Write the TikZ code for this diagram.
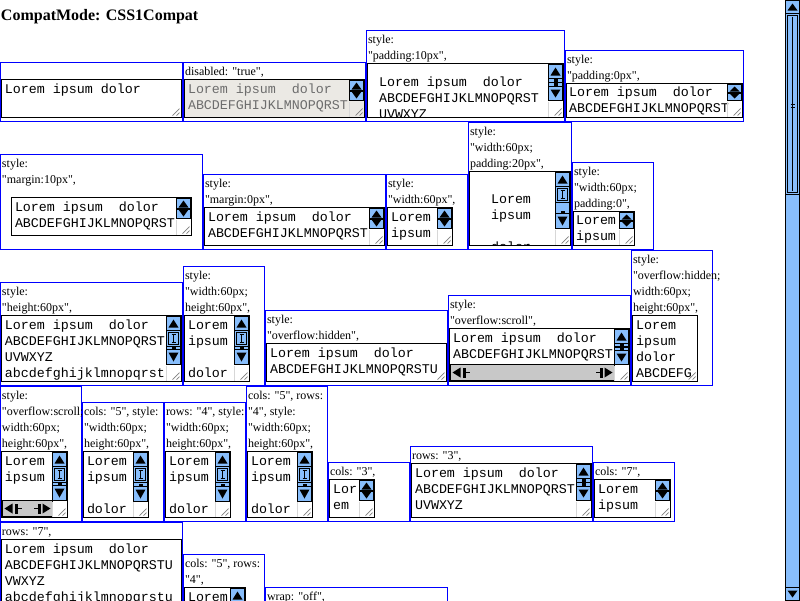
\documentclass[tikz,border=0pt]{standalone}
\usepackage{fontspec}
\setmainfont{Liberation Serif}[Ligatures=TeXOff]
\setmonofont{Liberation Mono}
\usepackage{xcolor}

\definecolor{sbblue}{RGB}{136,190,252}
\definecolor{sbgray}{RGB}{200,200,200}
\definecolor{offfill}{RGB}{235,233,228}
\definecolor{offtext}{RGB}{109,109,109}
\definecolor{gripline}{RGB}{128,128,128}
\definecolor{gripedge}{RGB}{215,215,215}

\newcommand\lblfont{\fontsize{12}{16}\selectfont}
\newcommand\txtfont{\fontsize{13.33}{16}\selectfont\ttfamily}

% textarea widgets, #1 = right edge of the textarea
\newcommand\taUp[3]{%
  \filldraw[sb] (#1-15,#2) rectangle (#1-1,#3);
  \fill (#1-8,#2+3) -- (#1-13,#3-3) -- (#1-3,#3-3) -- cycle;}
\newcommand\taDown[3]{%
  \filldraw[sb] (#1-15,#2) rectangle (#1-1,#3);
  \fill (#1-8,#3-3) -- (#1-13,#2+3) -- (#1-3,#2+3) -- cycle;}
\newcommand\taSpin[3]{%
  \pgfmathsetmacro\spinmid{(#2+#3)/2}
  \filldraw[sb] (#1-15,#2) rectangle (#1-1,#3);
  \fill (#1-8,#2+2) -- (#1-13,\spinmid-1) -- (#1-3,\spinmid-1) -- cycle;
  \fill (#1-8,#3-2) -- (#1-13,\spinmid+1) -- (#1-3,\spinmid+1) -- cycle;
  \draw[line width=2pt] (#1-15,\spinmid) -- (#1-1,\spinmid);}
\newcommand\taArrows[3]{%
  \pgfmathsetmacro\arrmid{(#2+#3)/2}
  \taUp{#1}{#2}{#2+14}
  \filldraw[sb] (#1-15,#2+14) rectangle (#1-1,#3-14);
  \draw[line width=1.5pt] (#1-15,\arrmid) -- (#1-1,\arrmid);
  \fill (#1-10,#2+14) rectangle (#1-6,#3-14);
  \taDown{#1}{#3-14}{#3}}
\newcommand\taFull[3]{%
  \taUp{#1}{#2}{#2+14}
  \filldraw[sb] (#1-15,#2+14) rectangle (#1-1,#2+30);
  \draw[line width=0.6pt] (#1-13,#2+16) rectangle (#1-3,#2+28);
  \draw[line width=0.6pt] (#1-8,#2+18) -- (#1-8,#2+26) (#1-10,#2+18) -- (#1-6,#2+18) (#1-10,#2+26) -- (#1-6,#2+26);
  \filldraw[sb] (#1-15,#2+30) rectangle (#1-1,#3-15);
  \fill (#1-10,#3-18) rectangle (#1-6,#3-15);
  \taDown{#1}{#3-15}{#3}}
\newcommand\taHoriz[3]{%
  \filldraw[hsb] (#1,#3) rectangle (#2,#3+16);
  \fill (#1+2,#3+8) -- (#1+10,#3+3) -- (#1+10,#3+13) -- cycle;
  \fill (#1+12,#3+3) rectangle (#1+15,#3+13);
  \draw (#1+15,#3+8) -- (#1+19,#3+8);
  \fill (#2-2,#3+8) -- (#2-10,#3+3) -- (#2-10,#3+13) -- cycle;
  \fill (#2-12,#3+3) rectangle (#2-15,#3+13);
  \draw (#2-15,#3+8) -- (#2-19,#3+8);}
\newcommand\taGrip[2]{%
  \draw[gripline, line width=0.7pt] (#1-2,#2-9) -- (#1-9,#2-2) (#1-2,#2-5) -- (#1-5,#2-2);}
\newcommand\taGripBox[2]{%
  \draw[gripedge] (#1-15,#2-16) -- (#1-15,#2-1);
  \taGrip{#1}{#2}}

\begin{document}
\begin{tikzpicture}[x=1pt,y=-1pt,line width=1pt,
  frame/.style={draw=blue},
  area/.style={draw=black, fill=white},
  off/.style={draw=black, fill=offfill},
  sb/.style={draw=black, fill=sbblue},
  hsb/.style={draw=black, fill=sbgray},
  lbl/.style={anchor=base west, inner sep=0pt, font=\lblfont},
  txt/.style={anchor=base west, inner sep=0pt, font=\txtfont}]
\useasboundingbox (-0.5,-0.5) rectangle (799.5,599.5);
\clip (-0.5,-0.5) rectangle (799.5,599.5);

\node[anchor=base west, inner sep=0pt, font=\fontsize{16}{19}\selectfont\bfseries] (title) at (0,20) {CompatMode: CSS1Compat};

% first row
\draw[frame] (0,62) rectangle (182,121);
\draw[area] (1,79) rectangle (181,117);
\node[txt] (txtA1) at (4,93) {Lorem ipsum dolor};
\taGrip{181}{117}

\draw[frame] (183,62) rectangle (365,121);
\node[lbl] (lblB1) at (184,75) {disabled: "true",};
\draw[off] (184,79) rectangle (364,117);
\node[txt, text=offtext] (txtB1) at (187,93) {Lorem ipsum\ \ dolor};
\node[txt, text=offtext] (txtB2) at (187,109) {ABCDEFGHIJKLMNOPQRST};
\taSpin{364}{80}{100}
\taGripBox{364}{117}

\draw[frame] (366,30) rectangle (564,121);
\node[lbl] (lblC1) at (367,43) {style:};
\node[lbl] (lblC2) at (367,59) {"padding:10px",};
\draw[area] (367,63) rectangle (563,117);
\begin{scope}
\clip (368,64) rectangle (562,116);
\node[txt] (txtC1) at (378,86) {Lorem ipsum\ \ dolor};
\node[txt] (txtC2) at (378,102) {ABCDEFGHIJKLMNOPQRST};
\node[txt] (txtC3) at (378,118) {UVWXYZ};
\end{scope}
\taArrows{563}{64}{100}
\taGripBox{563}{117}

\draw[frame] (565,50) rectangle (743,121);
\node[lbl] (lblD1) at (566,63) {style:};
\node[lbl] (lblD2) at (566,79) {"padding:0px",};
\draw[area] (566,83) rectangle (742,117);
\node[txt] (txtD1) at (568,96) {Lorem ipsum\ \ dolor};
\node[txt] (txtD2) at (568,112) {ABCDEFGHIJKLMNOPQRST};
\taSpin{742}{84}{100}
\taGripBox{742}{117}

% second row
\draw[frame] (0,154) rectangle (202,249);
\node[lbl] (lblE1) at (1,167) {style:};
\node[lbl] (lblE2) at (1,183) {"margin:10px",};
\draw[area] (11,197) rectangle (191,235);
\node[txt] (txtE1) at (14,211) {Lorem ipsum\ \ dolor};
\node[txt] (txtE2) at (14,227) {ABCDEFGHIJKLMNOPQRST};
\taSpin{191}{198}{218}
\taGripBox{191}{235}

\draw[frame] (203,174) rectangle (385,249);
\node[lbl] (lblF1) at (204,187) {style:};
\node[lbl] (lblF2) at (204,203) {"margin:0px",};
\draw[area] (204,207) rectangle (384,245);
\node[txt] (txtF1) at (207,221) {Lorem ipsum\ \ dolor};
\node[txt] (txtF2) at (207,237) {ABCDEFGHIJKLMNOPQRST};
\taSpin{384}{208}{228}
\taGripBox{384}{245}

\draw[frame] (386,174) rectangle (467,249);
\node[lbl] (lblG1) at (387,187) {style:};
\node[lbl] (lblG2) at (387,203) {"width:60px",};
\draw[area] (387,207) rectangle (452,245);
\node[txt] (txtG1) at (390,221) {Lorem};
\node[txt] (txtG2) at (390,237) {ipsum};
\taSpin{452}{208}{228}
\taGripBox{452}{245}

\draw[frame] (468,122) rectangle (571,249);
\node[lbl] (lblH1) at (469,135) {style:};
\node[lbl] (lblH2) at (469,151) {"width:60px;};
\node[lbl] (lblH3) at (469,167) {padding:20px",};
\draw[area] (469,171) rectangle (570,245);
\begin{scope}
\clip (470,172) rectangle (569,244);
\node[txt] (txtH1) at (490,203) {Lorem};
\node[txt] (txtH2) at (490,219) {ipsum};
\node[txt] (txtH3) at (490,251) {dolor};
\end{scope}
\taFull{570}{172}{228}
\taGripBox{570}{245}

\draw[frame] (572,162) rectangle (653,249);
\node[lbl] (lblI1) at (573,175) {style:};
\node[lbl] (lblI2) at (573,191) {"width:60px;};
\node[lbl] (lblI3) at (573,207) {padding:0",};
\draw[area] (573,211) rectangle (634,245);
\node[txt] (txtI1) at (575,224) {Lorem};
\node[txt] (txtI2) at (575,240) {ipsum};
\taSpin{634}{212}{228}
\taGripBox{634}{245}

% third row
\draw[frame] (0,282) rectangle (182,385);
\node[lbl] (lblJ1) at (1,295) {style:};
\node[lbl] (lblJ2) at (1,311) {"height:60px",};
\draw[area] (1,315) rectangle (181,381);
\node[txt] (txtJ1) at (4,329) {Lorem ipsum\ \ dolor};
\node[txt] (txtJ2) at (4,345) {ABCDEFGHIJKLMNOPQRST};
\node[txt] (txtJ3) at (4,361) {UVWXYZ};
\node[txt] (txtJ4) at (4,377) {abcdefghijklmnopqrst};
\taFull{181}{316}{364}
\taGripBox{181}{381}

\draw[frame] (183,266) rectangle (264,385);
\node[lbl] (lblK1) at (184,279) {style:};
\node[lbl] (lblK2) at (184,295) {"width:60px;};
\node[lbl] (lblK3) at (184,311) {height:60px",};
\draw[area] (184,315) rectangle (249,381);
\node[txt] (txtK1) at (187,329) {Lorem};
\node[txt] (txtK2) at (187,345) {ipsum};
\node[txt] (txtK3) at (187,377) {dolor};
\taFull{249}{316}{364}
\taGripBox{249}{381}

\draw[frame] (265,310) rectangle (447,385);
\node[lbl] (lblL1) at (266,323) {style:};
\node[lbl] (lblL2) at (266,339) {"overflow:hidden",};
\draw[area] (266,343) rectangle (446,381);
\node[txt] (txtL1) at (269,357) {Lorem ipsum\ \ dolor};
\node[txt] (txtL2) at (269,373) {ABCDEFGHIJKLMNOPQRSTU};
\taGrip{446}{381}

\draw[frame] (448,295) rectangle (630,385);
\node[lbl] (lblM1) at (449,308) {style:};
\node[lbl] (lblM2) at (449,324) {"overflow:scroll",};
\draw[area] (449,328) rectangle (629,381);
\node[txt] (txtM1) at (452,342) {Lorem ipsum\ \ dolor};
\node[txt] (txtM2) at (452,358) {ABCDEFGHIJKLMNOPQRST};
\taArrows{629}{329}{364}
\taHoriz{450}{614}{364}
\taGripBox{629}{381}

\draw[frame] (631,250) rectangle (712,385);
\node[lbl] (lblN1) at (632,263) {style:};
\node[lbl] (lblN2) at (632,279) {"overflow:hidden;};
\node[lbl] (lblN3) at (632,295) {width:60px;};
\node[lbl] (lblN4) at (632,311) {height:60px",};
\draw[area] (632,315) rectangle (697,381);
\node[txt] (txtN1) at (635,329) {Lorem};
\node[txt] (txtN2) at (635,345) {ipsum};
\node[txt] (txtN3) at (635,361) {dolor};
\node[txt] (txtN4) at (635,377) {ABCDEFG};
\taGrip{697}{381}

% fourth row
\draw[frame] (0,386) rectangle (81,521);
\node[lbl] (lblO1) at (1,399) {style:};
\node[lbl] (lblO2) at (1,415) {"overflow:scroll;};
\node[lbl] (lblO3) at (1,431) {width:60px;};
\node[lbl] (lblO4) at (1,447) {height:60px",};
\draw[area] (1,451) rectangle (67,517);
\node[txt] (txtO1) at (4,465) {Lorem};
\node[txt] (txtO2) at (4,481) {ipsum};
\taFull{67}{452}{500}
\taHoriz{2}{52}{500}
\taGripBox{67}{517}

\draw[frame] (82,402) rectangle (163,521);
\node[lbl] (lblP1) at (83,415) {cols: "5", style:};
\node[lbl] (lblP2) at (83,431) {"width:60px;};
\node[lbl] (lblP3) at (83,447) {height:60px",};
\draw[area] (83,451) rectangle (148,517);
\node[txt] (txtP1) at (86,465) {Lorem};
\node[txt] (txtP2) at (86,481) {ipsum};
\node[txt] (txtP3) at (86,513) {dolor};
\taFull{148}{452}{501}
\taGripBox{148}{517}

\draw[frame] (164,402) rectangle (245,521);
\node[lbl] (lblQ1) at (165,415) {rows: "4", style:};
\node[lbl] (lblQ2) at (165,431) {"width:60px;};
\node[lbl] (lblQ3) at (165,447) {height:60px",};
\draw[area] (165,451) rectangle (230,517);
\node[txt] (txtQ1) at (168,465) {Lorem};
\node[txt] (txtQ2) at (168,481) {ipsum};
\node[txt] (txtQ3) at (168,513) {dolor};
\taFull{230}{452}{501}
\taGripBox{230}{517}

\draw[frame] (246,386) rectangle (327,521);
\node[lbl] (lblR1) at (247,399) {cols: "5", rows:};
\node[lbl] (lblR2) at (247,415) {"4", style:};
\node[lbl] (lblR3) at (247,431) {"width:60px;};
\node[lbl] (lblR4) at (247,447) {height:60px",};
\draw[area] (247,451) rectangle (312,517);
\node[txt] (txtR1) at (250,465) {Lorem};
\node[txt] (txtR2) at (250,481) {ipsum};
\node[txt] (txtR3) at (250,513) {dolor};
\taFull{312}{452}{501}
\taGripBox{312}{517}

\draw[frame] (328,462) rectangle (409,521);
\node[lbl] (lblS1) at (329,475) {cols: "3",};
\draw[area] (329,479) rectangle (374,517);
\node[txt] (txtS1) at (332,493) {Lor};
\node[txt] (txtS2) at (332,509) {em};
\taSpin{374}{480}{500}
\taGripBox{374}{517}

\draw[frame] (410,446) rectangle (592,521);
\node[lbl] (lblT1) at (411,459) {rows: "3",};
\draw[area] (411,463) rectangle (591,517);
\node[txt] (txtT1) at (414,477) {Lorem ipsum\ \ dolor};
\node[txt] (txtT2) at (414,493) {ABCDEFGHIJKLMNOPQRST};
\node[txt] (txtT3) at (414,509) {UVWXYZ};
\taArrows{591}{464}{500}
\taGripBox{591}{517}

\draw[frame] (593,462) rectangle (674,521);
\node[lbl] (lblU1) at (594,475) {cols: "7",};
\draw[area] (594,479) rectangle (670,517);
\node[txt] (txtU1) at (597,493) {Lorem};
\node[txt] (txtU2) at (597,509) {ipsum};
\taSpin{670}{480}{500}
\taGripBox{670}{517}

% last row, cut by the window
\draw[frame] (0,522) rectangle (182,640);
\node[lbl] (lblV1) at (1,535) {rows: "7",};
\draw[area] (1,539) rectangle (181,660);
\node[txt] (txtV1) at (4,553) {Lorem ipsum\ \ dolor};
\node[txt] (txtV2) at (4,569) {ABCDEFGHIJKLMNOPQRSTU};
\node[txt] (txtV3) at (4,585) {VWXYZ};
\node[txt] (txtV4) at (4,601) {abcdefghijklmnopqrstu};

\draw[frame] (183,554) rectangle (264,640);
\node[lbl] (lblW1) at (184,567) {cols: "5", rows:};
\node[lbl] (lblW2) at (184,583) {"4",};
\draw[area] (184,587) rectangle (245,660);
\node[txt] (txtW1) at (187,601) {Lorem};
\taUp{245}{588}{602}

\draw[frame] (265,587) rectangle (447,640);
\node[lbl] (lblX1) at (266,600) {wrap: "off",};

% window scrollbar
\filldraw[sb] (785,-1) rectangle (799,601);
\taUp{800}{0}{13}
\draw (785,13) rectangle (799,194);
\draw[line width=0.8pt] (787,15) rectangle (797,192);
\draw[line width=0.8pt] (792,16) -- (792,190) (790,104) -- (794,104) (790,107) -- (794,107);
\taDown{800}{587}{600}
\end{tikzpicture}
\end{document}
